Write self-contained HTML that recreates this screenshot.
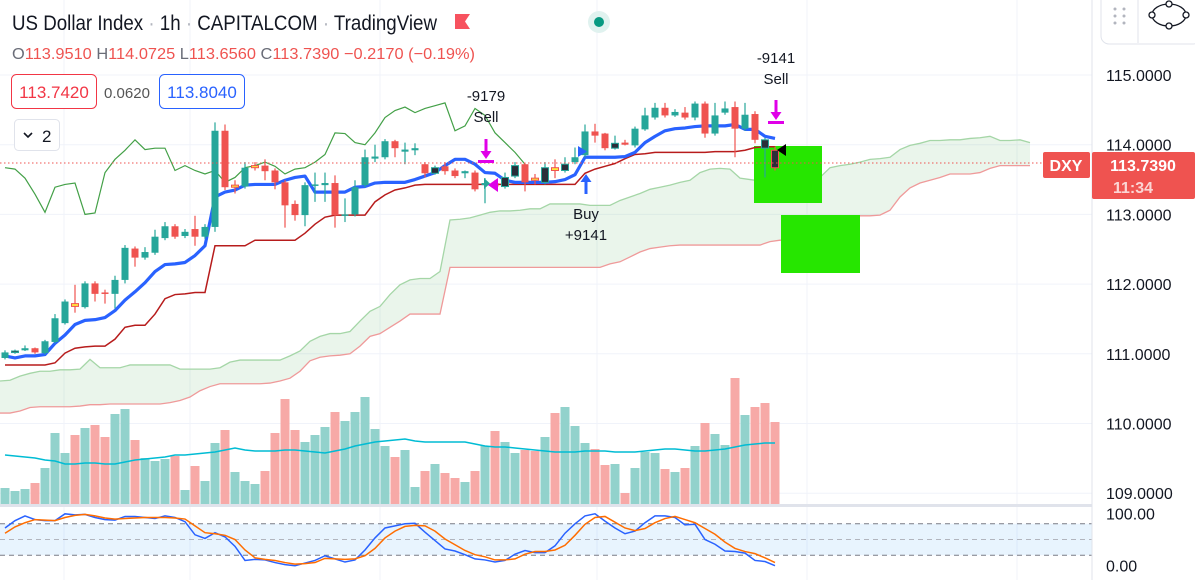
<!DOCTYPE html>
<html><head><meta charset="utf-8"><style>
html,body{margin:0;padding:0;background:#fff;overflow:hidden}
svg{display:block;font-family:"Liberation Sans",sans-serif}
</style></head><body>
<svg id="c" width="1195" height="580" viewBox="0 0 1195 580" xmlns="http://www.w3.org/2000/svg">
<g id="grid"></g>
<g id="cloud"></g>
<g id="vol"></g>
<g id="boxes">
<rect x="754" y="146" width="68" height="57" fill="#26e600"/>
<rect x="781" y="215" width="79" height="58" fill="#26e600"/>
</g>
<g id="lines"></g>
<g id="candles"></g>
<g id="stoch"></g>
<g id="marks">
<line x1="0" x2="1092" y1="163" y2="163" stroke="#ef5350" stroke-dasharray="1.5,2.5" stroke-width="1"/>
<g>
<text x="486" y="101" font-size="15" text-anchor="middle" fill="#131722">-9179</text>
<text x="486" y="122" font-size="15" text-anchor="middle" fill="#131722">Sell</text>
<path d="M484.5 139h3v12h4l-5.5 8-5.5-8h4z" fill="#e000e8"/><rect x="478" y="160" width="16" height="3" fill="#e000e8"/>
<path d="M498 178v14l-10-7z" fill="#e000e8"/><path d="M484 178v11l6-5.5z" fill="#26a69a"/>
</g>
<g>
<path d="M584.5 194h3v-12h4l-5.5-8-5.5 8h4z" fill="#2962ff"/>
<path d="M578 146v11l9-5.5z" fill="#2962ff"/>
<text x="586" y="219" font-size="15" text-anchor="middle" fill="#131722">Buy</text>
<text x="586" y="240" font-size="15" text-anchor="middle" fill="#131722">+9141</text>
</g>
<g>
<text x="776" y="63" font-size="15" text-anchor="middle" fill="#131722">-9141</text>
<text x="776" y="84" font-size="15" text-anchor="middle" fill="#131722">Sell</text>
<path d="M774.5 100h3v12h4l-5.5 8-5.5-8h4z" fill="#e000e8"/><rect x="768" y="121" width="16" height="3" fill="#e000e8"/>
<path d="M786 144v12l-9-6z" fill="#000"/>
</g>
</g>
<g id="axis">
<rect x="1092" y="0" width="103" height="580" fill="#fff"/>
<line x1="1092" x2="1092" y1="0" y2="580" stroke="#e0e3eb"/>
</g>
<g>
<text x="12" y="30" font-size="21" fill="#131722" textLength="425" lengthAdjust="spacingAndGlyphs">US Dollar Index <tspan fill="#b2b5be">·</tspan> 1h <tspan fill="#b2b5be">·</tspan> CAPITALCOM <tspan fill="#b2b5be">·</tspan> TradingView</text>
<path d="M455 14h15l-5 7.5 5 7.5h-15z" fill="#f7525f"/>
<circle cx="599" cy="22" r="11" fill="#e0f2ef"/><circle cx="599" cy="22" r="5" fill="#089981"/>
<text x="12" y="59" font-size="16" fill="#ef5350" textLength="463" lengthAdjust="spacingAndGlyphs"><tspan fill="#6a6d78">O</tspan>113.9510 <tspan fill="#6a6d78">H</tspan>114.0725 <tspan fill="#6a6d78">L</tspan>113.6560 <tspan fill="#6a6d78">C</tspan>113.7390 −0.2170 (−0.19%)</text>
<rect x="11.5" y="74.5" width="85" height="34" rx="5" fill="#fff" stroke="#f23645"/>
<text x="54" y="98" font-size="17" text-anchor="middle" fill="#f23645">113.7420</text>
<text x="127" y="98" font-size="15" text-anchor="middle" fill="#555">0.0620</text>
<rect x="159.5" y="74.5" width="85" height="34" rx="5" fill="#fff" stroke="#2962ff"/>
<text x="202" y="98" font-size="17" text-anchor="middle" fill="#2962ff">113.8040</text>
<rect x="14.5" y="119.5" width="45" height="31" rx="4" fill="#fff" stroke="#e0e3eb"/>
<path d="M24 133l4 4 4-4" fill="none" stroke="#131722" stroke-width="1.6"/>
<text x="42" y="142" font-size="17" fill="#131722">2</text>
</g>
<g>
<rect x="1101" y="-8" width="100" height="52" rx="8" fill="#fff" stroke="#e0e3eb"/>
<g fill="#b2b5be"><circle cx="1115" cy="9" r="1.5"/><circle cx="1124" cy="9" r="1.5"/><circle cx="1115" cy="16" r="1.5"/><circle cx="1124" cy="16" r="1.5"/><circle cx="1115" cy="23" r="1.5"/><circle cx="1124" cy="23" r="1.5"/></g>
<line x1="1138" y1="0" x2="1138" y2="43" stroke="#e0e3eb"/>
<ellipse cx="1169" cy="15" rx="17" ry="11" fill="none" stroke="#131722" stroke-width="1.3"/>
<g fill="#fff" stroke="#131722" stroke-width="1.3"><circle cx="1169" cy="4" r="3"/><circle cx="1169" cy="26" r="3"/><circle cx="1152" cy="15" r="3"/><circle cx="1186" cy="15" r="3"/></g>
</g>
<g>
<rect x="1043" y="152" width="47" height="26" rx="2" fill="#ef5350"/>
<text x="1066" y="171" font-size="16" font-weight="bold" text-anchor="middle" fill="#fff">DXY</text>
<rect x="1092" y="152" width="103" height="47" rx="2" fill="#ef5350"/>
<text x="1143" y="171" font-size="16" font-weight="bold" text-anchor="middle" fill="#fff">113.7390</text>
<text x="1113" y="193" font-size="16" font-weight="bold" fill="#fbd5d4">11:34</text>
</g>
</svg>
<script>
const opens=[110.94,111.02,111.05,111.08,111.01,111.17,111.44,111.72,111.67,112.01,111.88,111.86,112.06,112.51,112.38,112.45,112.66,112.83,112.69,112.79,112.68,112.82,114.20,113.42,113.40,113.70,113.70,113.63,113.46,113.15,112.99,113.42,113.42,113.45,112.99,113.00,113.42,113.80,113.82,114.05,113.90,113.92,113.72,113.59,113.69,113.63,113.59,113.60,113.42,113.45,113.40,113.55,113.72,113.52,113.46,113.67,113.63,113.75,113.85,114.19,114.16,113.95,114.03,113.99,114.22,114.39,114.53,114.42,114.46,114.39,114.59,114.16,114.46,114.54,114.23,114.44,113.95,113.92];
const highs=[111.05,111.06,111.12,111.09,111.20,111.57,111.78,111.99,112.04,112.04,111.92,112.12,112.56,112.54,112.53,112.78,112.89,112.86,112.79,112.98,112.86,114.32,114.29,113.49,113.75,113.75,113.79,113.66,113.49,113.20,113.46,113.60,113.60,113.56,113.23,113.49,113.93,114.00,114.08,114.07,114.03,114.02,113.75,113.70,113.75,113.66,113.63,113.63,113.52,113.49,113.60,113.75,113.73,113.58,113.75,113.79,113.82,113.96,114.29,114.30,114.17,114.13,114.07,114.26,114.53,114.60,114.60,114.51,114.54,114.62,114.62,114.60,114.62,114.62,114.60,114.48,114.10,113.97];
const lows=[110.92,111.00,111.04,111.00,110.99,111.15,111.42,111.59,111.65,111.75,111.72,111.65,112.01,112.25,112.35,112.42,112.63,112.65,112.66,112.55,112.65,112.75,113.35,113.30,113.37,113.63,113.49,113.36,112.81,112.91,112.83,113.18,113.18,112.81,112.89,112.97,113.39,113.75,113.79,113.82,113.72,113.85,113.53,113.57,113.57,113.52,113.52,113.33,113.16,113.37,113.37,113.52,113.33,113.43,113.43,113.52,113.60,113.72,113.82,114.03,113.92,113.93,113.99,113.96,114.20,114.36,114.39,114.40,114.36,114.35,114.10,114.13,114.43,113.82,114.20,114.02,113.53,113.63];
const closes=[111.02,111.04,111.08,111.02,111.18,111.51,111.75,111.68,112.01,111.86,111.87,112.06,112.52,112.38,112.46,112.68,112.83,112.68,112.75,112.68,112.82,114.20,113.39,113.39,113.67,113.67,113.62,113.46,113.13,112.99,113.42,113.43,113.45,112.99,113.00,113.39,113.82,113.83,114.05,113.95,113.93,113.95,113.59,113.67,113.62,113.55,113.62,113.36,113.45,113.40,113.53,113.70,113.46,113.49,113.67,113.63,113.72,113.82,114.19,114.13,113.95,114.02,114.00,114.23,114.42,114.53,114.42,114.47,114.39,114.59,114.16,114.42,114.52,114.23,114.43,114.07,114.07,113.67];
const barColors=["g","k","g","r","g","g","g","y","g","r","r","g","g","r","g","g","g","r","g","r","g","g","r","y","g","y","r","r","r","r","g","g","g","r","g","g","g","g","g","r","g","g","r","k","r","r","g","r","g","r","k","k","r","y","k","y","k","g","g","r","r","k","r","g","g","g","r","g","r","g","r","g","g","r","g","r","k","k"];
const baseLine=[110.97,110.94,110.97,110.97,110.99,111.15,111.27,111.42,111.48,111.49,111.52,111.62,111.77,111.89,112.02,112.18,112.28,112.29,112.31,112.41,112.55,113.25,113.32,113.35,113.42,113.43,113.43,113.43,113.49,113.53,113.55,113.32,113.32,113.32,113.32,113.39,113.40,113.45,113.46,113.46,113.46,113.50,113.55,113.60,113.70,113.79,113.79,113.72,113.60,113.59,113.49,113.46,113.46,113.46,113.46,113.47,113.50,113.57,113.82,113.82,113.82,113.82,113.83,113.89,114.03,114.12,114.20,114.23,114.24,114.26,114.27,114.27,114.27,114.29,114.22,114.22,114.12,114.09];
const stopLine=[110.84,110.84,110.84,110.84,110.84,110.87,111.01,111.08,111.10,111.11,111.11,111.21,111.38,111.41,111.41,111.57,111.79,111.85,111.86,111.88,111.88,112.55,112.55,112.55,112.55,112.63,112.63,112.63,112.63,112.63,112.73,112.86,112.96,112.99,112.99,112.99,112.99,113.18,113.28,113.35,113.38,113.42,113.43,113.43,113.43,113.43,113.43,113.43,113.43,113.43,113.43,113.43,113.43,113.43,113.43,113.43,113.43,113.43,113.59,113.65,113.69,113.73,113.80,113.86,113.87,113.89,113.89,113.89,113.89,113.89,113.89,113.90,113.90,113.90,113.92,113.96,113.97,113.97];
const laggingSpan=[113.67,113.65,113.52,113.29,113.03,113.39,113.43,113.45,113.00,113.02,113.60,113.79,113.92,114.07,113.93,113.95,113.95,113.63,113.70,113.63,113.58,113.63,113.46,113.53,113.67,113.70,113.75,113.69,113.58,113.65,113.67,113.75,113.86,114.17,114.16,114.03,114.00,114.17,114.39,114.49,114.54,114.46,114.52,114.56,114.60,114.20,114.27,114.52,114.42,114.17,114.03,113.89,113.72];
const spanA=[110.61,110.62,110.68,110.72,110.75,110.75,110.77,110.77,110.78,110.92,110.80,110.80,110.80,110.84,110.84,110.84,110.84,110.84,110.78,110.78,110.78,110.78,110.80,110.88,110.91,110.91,110.91,110.91,110.91,110.97,111.04,111.18,111.25,111.29,111.29,111.32,111.47,111.61,111.68,111.85,111.99,112.06,112.08,112.08,112.18,112.92,112.93,112.95,112.99,113.03,113.05,113.05,113.06,113.08,113.08,113.15,113.15,113.15,113.15,113.13,113.13,113.13,113.20,113.25,113.30,113.36,113.39,113.42,113.46,113.49,113.60,113.65,113.66,113.65,113.52,113.50,113.48,113.46,113.45,113.45,113.46,113.49,113.53,113.67,113.70,113.72,113.75,113.79,113.80,113.82,113.93,113.99,114.02,114.06,114.06,114.07,114.07,114.09,114.10,114.12,114.06,114.06,114.07,114.03];
const spanB=[110.15,110.15,110.18,110.23,110.24,110.24,110.24,110.24,110.25,110.27,110.27,110.28,110.28,110.28,110.28,110.28,110.28,110.30,110.33,110.38,110.47,110.53,110.57,110.57,110.57,110.57,110.57,110.58,110.61,110.65,110.75,110.90,110.95,110.97,110.98,111.00,111.11,111.25,111.29,111.38,111.47,111.57,111.57,111.57,111.57,112.24,112.24,112.24,112.24,112.24,112.24,112.24,112.24,112.24,112.24,112.24,112.24,112.24,112.24,112.24,112.24,112.29,112.32,112.39,112.46,112.51,112.53,112.55,112.56,112.56,112.56,112.56,112.56,112.56,112.56,112.56,112.56,112.61,112.63,112.63,112.63,112.72,112.86,112.95,112.96,112.96,112.98,112.98,112.99,113.06,113.25,113.38,113.45,113.49,113.53,113.58,113.58,113.58,113.60,113.66,113.70,113.70,113.70,113.70];
const volumes=[16,13,15,21,36,71,51,69,76,79,67,90,95,64,46,43,45,48,14,38,23,61,74,32,23,20,33,71,105,74,62,69,77,92,83,92,107,75,58,47,54,17,33,40,31,26,22,33,58,73,62,51,54,53,67,91,97,78,61,55,39,40,11,36,52,51,35,32,36,58,81,70,59,126,89,97,101,82];
const volColors=["g","g","g","r","g","g","g","r","g","r","r","g","g","r","g","g","g","r","g","r","g","g","r","g","g","g","r","r","r","r","g","g","g","r","g","g","g","g","g","r","g","g","r","g","r","r","g","r","g","r","g","g","r","r","g","r","g","g","g","r","r","g","r","g","g","g","r","g","r","g","r","g","g","r","g","r","r","r"];
const volMA=[49,48,47,46,44,43,40,40,41,41,40,40,42,44,45,46,47,49,49,50,51,52,54,56,54,53,53,53,54,54,53,52,51,53,55,58,60,62,63,64,65,63,62,62,62,62,62,60,58,57,57,56,55,54,53,52,52,52,53,53,53,52,52,52,53,54,55,55,54,53,53,54,55,57,59,60,61,61];
const stochK=[72,86,95,88,86,86,99,97,98,92,88,87,94,94,92,90,95,92,84,59,52,63,55,37,10,12,11,6,2,0,5,10,19,13,7,11,30,53,72,76,80,81,64,48,32,28,21,13,11,7,10,22,29,25,25,38,62,80,95,99,85,72,61,66,82,95,95,92,78,79,50,41,28,27,24,10,8,0];
const stochD=[62,74,82,88,87,86,92,96,98,95,91,89,90,91,92,92,92,91,89,76,63,61,58,50,30,15,12,10,6,3,4,6,14,13,12,13,19,33,53,66,75,77,76,66,51,40,29,21,17,11,11,13,22,27,27,30,39,58,79,92,94,83,72,67,71,82,90,94,88,82,71,60,45,33,27,23,15,6];
const priceTicks=[115,114,113,112,111,110,109];
const stochTicks=[100,0];

const NS="http://www.w3.org/2000/svg";
function el(tag,attrs,parent){const e=document.createElementNS(NS,tag);for(const k in attrs)e.setAttribute(k,attrs[k]);parent.appendChild(e);return e;}
function xOf(i){return 5+10*i;}
function yP(p){return 75+(115-p)*69.7;}
function yV(v){return 504-v;}
function yS(s){return 565.7-s*0.524;}
const G=id=>document.getElementById(id);

// grid
const grid=G('grid');
[64,190,380,597,807,1017].forEach(x=>{const l=el('line',{x1:x,x2:x,y1:0,y2:580,stroke:'#f0f3fa'},grid);

});
priceTicks.forEach(t=>{const l=el('line',{x1:0,x2:1092,y1:yP(t),y2:yP(t),stroke:'#f0f3fa'},grid);

});

// cloud
const cl=G('cloud');
function xC(k){return xOf(k-0.5);}
let poly=spanA.map((v,k)=>xC(k)+','+yP(v)).join(' ')+' '+spanB.map((v,k)=>[xC(k),yP(v)]).reverse().map(a=>a.join(',')).join(' ');
const cf=el('polygon',{points:poly,fill:'#43a047','fill-opacity':'0.11'},cl);


const la=el('polyline',{points:spanA.map((v,k)=>xC(k)+','+yP(v)).join(' '),fill:'none',stroke:'#a5d6a7','stroke-width':1.3},cl);


const lb=el('polyline',{points:spanB.map((v,k)=>xC(k)+','+yP(v)).join(' '),fill:'none',stroke:'#ef9a9a','stroke-width':1.3},cl);



// volume
const vg=G('vol');
volumes.forEach((v,i)=>{const r=el('rect',{x:xOf(i)-4.5,y:yV(v),width:9,height:v,fill:volColors[i]==='g'?'#92d2cc':'#f7a9a7'},vg);

});
const vm=el('polyline',{points:volMA.map((v,i)=>xOf(i)+','+yV(v)).join(' '),fill:'none',stroke:'#00bcd4','stroke-width':1.5},vg);



// lines
const lg=G('lines');
const lag=el('polyline',{points:laggingSpan.map((v,i)=>xOf(i)+','+yP(v)).join(' '),fill:'none',stroke:'#43a047','stroke-width':1.2},lg);


const sl=el('polyline',{points:stopLine.map((v,i)=>xOf(i)+','+yP(v)).join(' '),fill:'none',stroke:'#b71c1c','stroke-width':1.5},lg);


const bl=el('polyline',{points:baseLine.map((v,i)=>xOf(i)+','+yP(v)).join(' '),fill:'none',stroke:'#2962ff','stroke-width':3.2,'stroke-linejoin':'round'},lg);



// candles
const cg=G('candles');
const fills={g:'#26a69a',r:'#ef5350',y:'#ffeb3b',k:'#2a2e39'};
const strokes={g:'#26a69a',r:'#ef5350',y:'#ef5350',k:'#ef5350'};
opens.forEach((o,i)=>{const c=closes[i],t=barColors[i],x=xOf(i);
const grp=el('g',{},cg);


const wc=t==='k'?(c>=o?'#26a69a':'#ef5350'):strokes[t];
el('line',{x1:x,x2:x,y1:yP(highs[i]),y2:yP(lows[i]),stroke:t==='g'?'#26a69a':wc,'stroke-width':1.2},grp);
const top=yP(Math.max(o,c)),h=Math.max(1.5,Math.abs(yP(o)-yP(c)));
el('rect',{x:x-3.5,y:top,width:7,height:h,fill:fills[t],stroke:(t==='g'||t==='r')?'none':wc,'stroke-width':1},grp);});

// stochastic pane
const sg=G('stoch');
const sep=el('rect',{x:0,y:504,width:1195,height:3,fill:'#e0e3eb'},sg);


const band=el('rect',{x:0,y:yS(80),width:1092,height:yS(20)-yS(80),fill:'#2196f3','fill-opacity':'0.1'},sg);


[[80,'#787b86'],[50,'#b2b5be'],[20,'#787b86']].forEach(a=>{const l=el('line',{x1:0,x2:1092,y1:yS(a[0]),y2:yS(a[0]),stroke:a[1],'stroke-dasharray':'5,4'},sg);

});
const sk=el('polyline',{points:stochK.map((v,i)=>xOf(i)+','+yS(v)).join(' '),fill:'none',stroke:'#2962ff','stroke-width':1.5},sg);


const sd=el('polyline',{points:stochD.map((v,i)=>xOf(i)+','+yS(v)).join(' '),fill:'none',stroke:'#ff6d00','stroke-width':1.5},sg);



// axis labels
const ax=G('axis');
priceTicks.forEach(t=>{const tx=el('text',{x:1106,y:yP(t)+6,'font-size':16,fill:'#131722'},ax);tx.textContent=t.toFixed(4);

});
stochTicks.forEach(t=>{const tx=el('text',{x:1106,y:yS(t)+6,'font-size':16,fill:'#131722'},ax);tx.textContent=t.toFixed(2);

});
</script>
</body></html>
